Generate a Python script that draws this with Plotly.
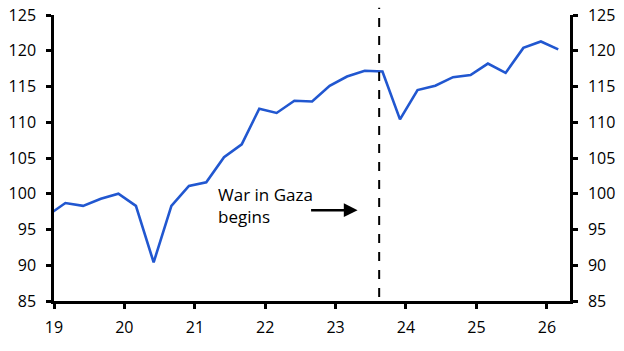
import plotly.graph_objects as go

dates = ["2018-12-01",
         "2019-03-01", "2019-06-01", "2019-09-01", "2019-12-01",
         "2020-03-01", "2020-06-01", "2020-09-01", "2020-12-01",
         "2021-03-01", "2021-06-01", "2021-09-01", "2021-12-01",
         "2022-03-01", "2022-06-01", "2022-09-01", "2022-12-01",
         "2023-03-01", "2023-06-01", "2023-09-01", "2023-12-01",
         "2024-03-01", "2024-06-01", "2024-09-01", "2024-12-01",
         "2025-03-01", "2025-06-01", "2025-09-01", "2025-12-01",
         "2026-03-01"]
values = [97.0,
          98.7, 98.3, 99.3, 100.0,
          98.3, 90.4, 98.3, 101.1,
          101.6, 105.1, 106.9, 111.9,
          111.3, 113.0, 112.9, 115.1,
          116.4, 117.2, 117.1, 110.4,
          114.5, 115.1, 116.3, 116.6,
          118.2, 116.9, 120.4, 121.3,
          120.2]
tick_dates = ["2019-01-01", "2020-01-01", "2021-01-01", "2022-01-01",
              "2023-01-01", "2024-01-01", "2025-01-01", "2026-01-01"]
tick_labels = ["19", "20", "21", "22", "23", "24", "25", "26"]
y_ticks = [85, 90, 95, 100, 105, 110, 115, 120, 125]
event_date = "2023-08-15"
annot_text = "War in Gaza<br>begins"

FONT = dict(family="Open Sans", size=16, color="#000000")
ANNOT_FONT = dict(family="Open Sans", size=17, color="#000000")
BLUE = "#2157D0"

fig = go.Figure()
fig.add_trace(go.Scatter(x=dates, y=values, mode="lines",
                         line=dict(color=BLUE, width=2.6),
                         showlegend=False, hoverinfo="skip"))
fig.add_trace(go.Scatter(x=dates, y=values, mode="lines", yaxis="y2",
                         line=dict(color="rgba(0,0,0,0)", width=0),
                         showlegend=False, hoverinfo="skip"))

fig.add_shape(type="line", xref="x", yref="paper",
              x0=event_date, x1=event_date, y0=0.014, y1=1.025,
              line=dict(color="#000000", width=2, dash="dash"))

fig.add_annotation(x="2021-04-20", y=98.3, xref="x", yref="y",
                   text=annot_text, showarrow=False, align="left",
                   xanchor="left", yanchor="middle", font=ANNOT_FONT)
fig.add_annotation(x="2023-04-25", y=97.7, xref="x", yref="y",
                   text="", showarrow=True, ax=-48, ay=0,
                   arrowhead=2, arrowsize=1.1, arrowwidth=2.5,
                   arrowcolor="#000000")

axis_common = dict(showgrid=False, zeroline=False, showline=True,
                   linecolor="#000000", linewidth=2.5,
                   ticks="outside", ticklen=5, tickwidth=2.5,
                   tickcolor="#000000", tickfont=FONT, automargin=False)

fig.update_layout(
    width=624, height=351,
    margin=dict(l=54, r=54, t=15, b=50),
    paper_bgcolor="white", plot_bgcolor="white",
    font=FONT,
    xaxis=dict(range=["2019-01-01", "2026-05-01"], tickvals=tick_dates,
               ticktext=tick_labels, ticklabelstandoff=5, **axis_common),
    yaxis=dict(range=[85, 125], tickvals=y_ticks, ticklabelstandoff=7,
               **axis_common),
    yaxis2=dict(range=[85, 125], tickvals=y_ticks, overlaying="y",
                side="right", ticklabelstandoff=7, **axis_common),
)

fig.write_html("out.html")
